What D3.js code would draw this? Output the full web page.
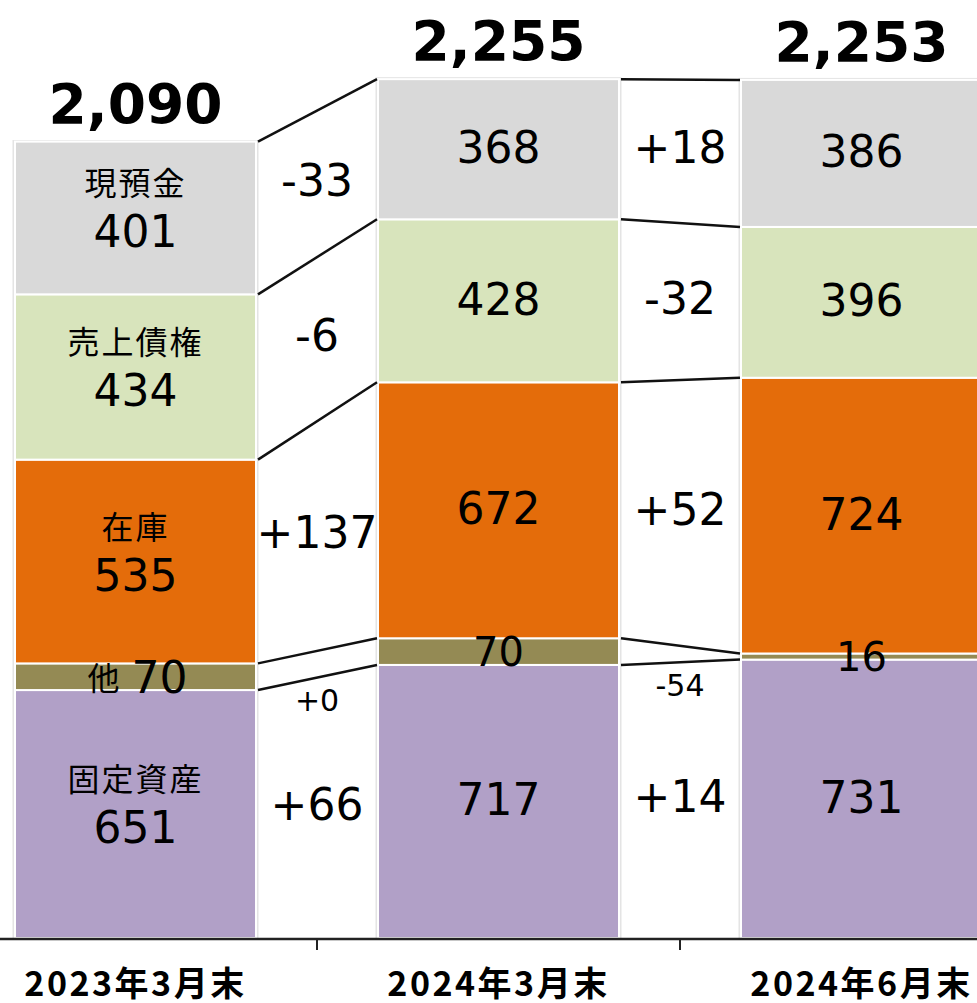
<!DOCTYPE html>
<html lang="ja">
<head>
  <meta charset="UTF-8">
  <title>資産の推移</title>
  <style>
    body { margin: 0; background: #fff; }
  </style>
</head>
<body>
  <div class="canvas"></div>

  <script src="https://cdnjs.cloudflare.com/ajax/libs/d3/7.8.5/d3.min.js"></script>
  <script>
// data
const periods = ['2023年3月末', '2024年3月末', '2024年6月末'];
const items = ['固定資産', '他', '在庫', '売上債権', '現預金'];   // bottom to top
const fixedAssets = [651, 717, 731];
const others = [70, 70, 16];
const inventory = [535, 672, 724];
const receivables = [434, 428, 396];
const cash = [401, 368, 386];
const totals = [2090, 2255, 2253];
const colors = ['#b1a0c7', '#948a54', '#e46c0a', '#d8e4bc', '#d9d9d9'];

const series = [fixedAssets, others, inventory, receivables, cash];

const width = 977, height = 1003;
const barW = 241;

const svg = d3.select('.canvas').append('svg')
  .attr('width', width)
  .attr('height', height);

const x = d3.scalePoint()
  .domain(periods)
  .range([135.5, 861.5]);

const y = d3.scaleLinear()
  .domain([0, 2090])
  .range([938, 142]);

const fmt = d3.format(',');
const signed = v => (v >= 0 ? '+' : '-') + Math.abs(v);

// stack tops/bottoms per period
const stack = periods.map((p, i) => {
  let acc = 0;
  return series.map((s, k) => {
    const y0 = acc;
    acc += s[i];
    return { period: p, i: i, k: k, item: items[k], value: s[i], y0: y0, y1: acc };
  });
});

// faint bar outline
svg.selectAll('rect.shadow')
  .data(periods)
  .join('rect')
  .attr('class', 'shadow')
  .attr('x', d => x(d) - barW / 2 - 1.5)
  .attr('y', (d, i) => y(totals[i]) - 1)
  .attr('width', barW + 3)
  .attr('height', (d, i) => y(0) - y(totals[i]) + 1)
  .attr('fill', 'none')
  .attr('stroke', '#e4e4e4')
  .attr('stroke-width', 2);

// segments
const segs = svg.append('g');
stack.forEach(col => {
  segs.selectAll(null)
    .data(col)
    .join('rect')
    .attr('x', d => x(d.period) - barW / 2)
    .attr('y', d => y(d.y1))
    .attr('width', barW)
    .attr('height', d => y(d.y0) - y(d.y1))
    .attr('fill', d => colors[d.k])
    .attr('stroke', '#fff')
    .attr('stroke-width', 2);
});

// connector lines between bars
const lines = svg.append('g');
for (let i = 0; i < periods.length - 1; i++) {
  stack[i].forEach((d, k) => {
    const n = stack[i + 1][k];
    lines.append('line')
      .attr('x1', x(periods[i]) + barW / 2 + 2)
      .attr('y1', y(d.y1))
      .attr('x2', x(periods[i + 1]) - barW / 2 - 1)
      .attr('y2', y(n.y1))
      .attr('stroke', '#111')
      .attr('stroke-width', 2.5);
  });
}

// change labels in the gaps
const deltas = svg.append('g')
  .attr('font-family', 'DejaVu Sans, Verdana, sans-serif')
  .attr('fill', '#000')
  .attr('text-anchor', 'middle');
for (let i = 0; i < periods.length - 1; i++) {
  const gx = (x(periods[i]) + x(periods[i + 1])) / 2;
  stack[i].forEach((d, k) => {
    const n = stack[i + 1][k];
    const dv = n.value - d.value;
    if (d.item === '他') {
      const yb = (y(d.y0) + y(n.y0)) / 2;
      deltas.append('text')
        .attr('x', gx)
        .attr('y', yb + 34)
        .attr('font-size', 30)
        .text(signed(dv));
    } else {
      const yc = (y(d.y0) + y(d.y1) + y(n.y0) + y(n.y1)) / 4;
      deltas.append('text')
        .attr('x', gx)
        .attr('y', yc + 12)
        .attr('font-size', 44)
        .text(signed(dv));
    }
  });
}

// value labels in bars
const labels = svg.append('g')
  .attr('fill', '#000')
  .attr('text-anchor', 'middle');
stack.forEach((col, i) => {
  col.forEach(d => {
    const cx = x(d.period);
    const yc = (y(d.y0) + y(d.y1)) / 2;
    if (d.item === '他') {
      if (i === 0) {
        labels.append('text')
          .attr('x', cx - 32)
          .attr('y', yc + 13)
          .attr('font-family', 'Noto Sans CJK JP')
          .attr('font-size', 32)
          .text(d.item);
        labels.append('text')
          .attr('x', cx + 24)
          .attr('y', yc + 16)
          .attr('font-family', 'DejaVu Sans, Verdana, sans-serif')
          .attr('font-size', 44)
          .text(d.value);
      } else {
        labels.append('text')
          .attr('x', cx)
          .attr('y', yc + 14)
          .attr('font-family', 'DejaVu Sans, Verdana, sans-serif')
          .attr('font-size', 40)
          .text(d.value);
      }
      return;
    }
    if (i === 0) {
      labels.append('text')
        .attr('x', cx)
        .attr('y', yc - 23)
        .attr('font-family', 'Noto Sans CJK JP')
        .attr('font-size', 32)
        .attr('letter-spacing', 2)
        .text(d.item);
      labels.append('text')
        .attr('x', cx)
        .attr('y', yc + 29)
        .attr('font-family', 'DejaVu Sans, Verdana, sans-serif')
        .attr('font-size', 44)
        .text(d.value);
    } else {
      labels.append('text')
        .attr('x', cx)
        .attr('y', yc + 14)
        .attr('font-family', 'DejaVu Sans, Verdana, sans-serif')
        .attr('font-size', 44)
        .text(d.value);
    }
  });
});

// totals above bars
svg.selectAll('text.total')
  .data(periods)
  .join('text')
  .attr('class', 'total')
  .attr('x', d => x(d))
  .attr('y', (d, i) => y(totals[i]) - 19)
  .attr('text-anchor', 'middle')
  .attr('font-family', 'DejaVu Sans, Verdana, sans-serif')
  .attr('font-weight', 'bold')
  .attr('font-size', 55)
  .text((d, i) => fmt(totals[i]));

// axis
svg.append('line')
  .attr('x1', 0)
  .attr('x2', width)
  .attr('y1', y(0) + 1)
  .attr('y2', y(0) + 1)
  .attr('stroke', '#222')
  .attr('stroke-width', 2.5);

const step = x.step();
svg.selectAll('line.tick')
  .data(periods.slice(0, -1))
  .join('line')
  .attr('class', 'tick')
  .attr('x1', d => x(d) + step / 2)
  .attr('x2', d => x(d) + step / 2)
  .attr('y1', y(0))
  .attr('y2', y(0) + 12)
  .attr('stroke', '#222')
  .attr('stroke-width', 2);

svg.selectAll('text.cat')
  .data(periods)
  .join('text')
  .attr('class', 'cat')
  .attr('x', d => x(d))
  .attr('y', 996)
  .attr('text-anchor', 'middle')
  .attr('font-family', 'Noto Sans CJK JP')
  .attr('font-weight', 'bold')
  .attr('font-size', 34)
  .attr('letter-spacing', 2.5)
  .text(d => d);
  </script>
</body>
</html>
